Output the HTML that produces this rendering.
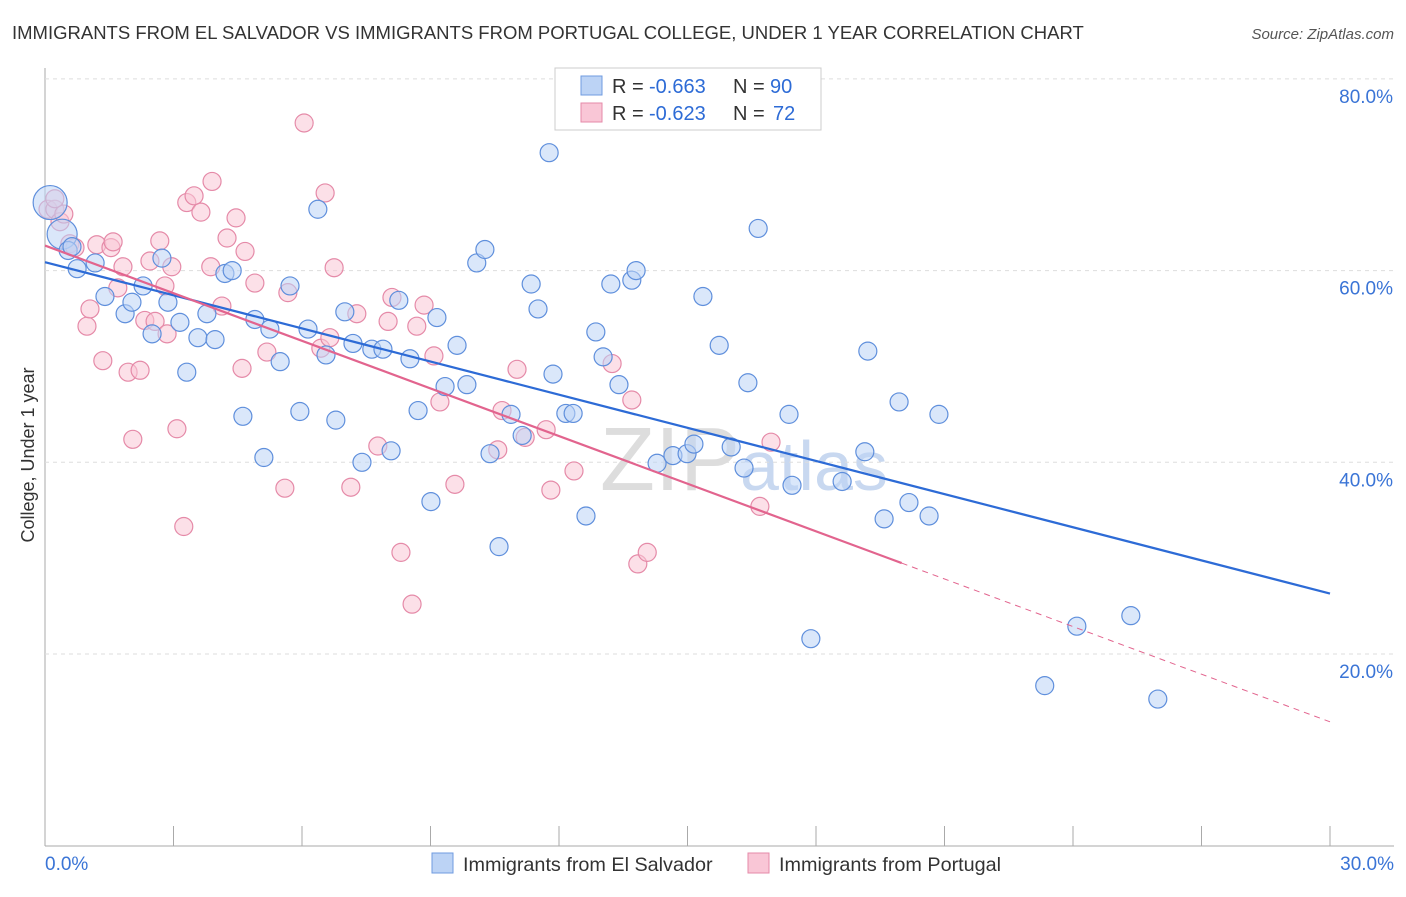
<!DOCTYPE html>
<html><head><meta charset="utf-8"><style>
body{margin:0;background:#fff;font-family:"Liberation Sans",sans-serif;}
svg text{font-family:"Liberation Sans",sans-serif;}
</style></head><body>
<svg id="c" width="1406" height="892">
<text x="12" y="39" font-size="18.5" fill="#333">IMMIGRANTS FROM EL SALVADOR VS IMMIGRANTS FROM PORTUGAL COLLEGE, UNDER 1 YEAR CORRELATION CHART</text>
<text x="1394" y="39" font-size="15" fill="#555" font-style="italic" text-anchor="end">Source: ZipAtlas.com</text>
<text x="600" y="490" font-size="90" fill="#ddd" font-family="Liberation Serif">ZIP<tspan fill="#c8d8f0" font-family="Liberation Sans" font-size="70">atlas</tspan></text>
<text transform="translate(34,455) rotate(-90)" font-size="18" fill="#333" text-anchor="middle">College, Under 1 year</text>
<g id="grid"></g><g id="pts"></g><g id="lines"></g>
<g>
<rect x="555" y="68" width="266" height="62" fill="#fff" stroke="#ccc"/>
<rect x="581" y="76" width="21" height="19" fill="#bcd3f5" stroke="#6f9be0"/>
<rect x="581" y="103" width="21" height="19" fill="#f9c6d6" stroke="#e58aa8"/>
<g font-size="20">
<text x="612" y="93" fill="#333">R =</text><text x="649" y="93" fill="#2d6bd6">-0.663</text>
<text x="733" y="93" fill="#333">N =</text><text x="770" y="93" fill="#2d6bd6">90</text></g>
<g font-size="20">
<text x="612" y="120" fill="#333">R =</text><text x="649" y="120" fill="#2d6bd6">-0.623</text>
<text x="733" y="120" fill="#333">N =</text><text x="773" y="120" fill="#2d6bd6">72</text></g>
</g>
<g>
<rect x="432" y="853" width="21" height="20" fill="#bcd3f5" stroke="#6f9be0"/>
<text x="463" y="871" font-size="19.8" fill="#333">Immigrants from El Salvador</text>
<rect x="748" y="853" width="21" height="20" fill="#f9c6d6" stroke="#e58aa8"/>
<text x="779" y="871" font-size="19.8" fill="#333">Immigrants from Portugal</text>
</g>
</svg>
<script>
const blueX=[0.12,0.40,0.54,0.75,1.17,1.40,1.87,2.03,2.29,2.50,2.73,2.87,3.15,3.31,3.57,3.78,3.97,4.20,4.37,4.62,4.90,5.11,5.25,5.49,5.72,5.95,6.14,6.37,6.56,6.79,7.00,7.19,7.40,7.63,7.89,8.08,8.26,8.52,8.71,9.01,9.15,9.34,9.62,9.85,10.08,10.27,10.39,10.60,10.88,11.14,11.35,11.51,11.77,11.86,12.16,12.33,12.63,12.86,13.03,13.21,13.40,13.70,13.80,14.29,14.66,14.99,15.15,15.36,15.74,16.02,16.32,16.41,16.65,17.37,17.44,17.88,18.61,19.14,19.21,19.59,19.94,20.17,20.64,20.87,23.34,24.09,25.35,25.98,0.63];
const blueY=[67.1,63.8,62.1,60.2,60.8,57.3,55.5,56.7,58.4,53.4,61.3,56.7,54.6,49.4,53.0,55.5,52.8,59.7,60.0,44.8,54.9,40.5,53.9,50.5,58.4,45.3,53.9,66.4,51.2,44.4,55.7,52.4,40.0,51.8,51.8,41.2,56.9,50.8,45.4,35.9,55.1,47.9,52.2,48.1,60.8,62.2,40.9,31.2,45.0,42.8,58.6,56.0,72.3,49.2,45.1,45.1,34.4,53.6,51.0,58.6,48.1,59.0,60.0,39.9,40.7,40.9,41.9,57.3,52.2,41.6,39.4,48.3,64.4,45.0,37.6,21.6,38.0,41.1,51.6,34.1,46.3,35.8,34.4,45.0,16.7,22.9,24.0,15.3,62.5];
const pinkX=[0.07,0.23,0.35,0.44,0.58,0.70,0.98,1.05,1.21,1.35,1.54,1.59,1.70,1.82,1.94,2.05,2.22,2.33,2.45,2.57,2.68,2.80,2.96,3.08,3.24,3.31,3.48,3.64,3.90,3.87,4.13,4.25,4.46,4.60,4.67,4.90,5.18,5.60,5.67,6.05,6.44,6.54,6.75,7.14,7.28,7.77,8.10,8.01,8.31,8.57,8.68,8.85,9.08,9.22,9.57,10.57,10.67,11.02,11.21,11.70,11.81,12.35,13.24,13.70,13.84,14.06,16.69,16.95,2.85,6.65,0.23];
const pinkY=[66.4,66.4,65.1,65.9,62.8,62.4,54.2,56.0,62.7,50.6,62.4,63.0,58.2,60.4,49.4,42.4,49.6,54.8,61.0,54.7,63.1,58.4,60.4,43.5,33.3,67.1,67.8,66.1,69.3,60.4,56.3,63.4,65.5,49.8,62.0,58.7,51.5,37.3,57.7,75.4,51.9,68.1,60.3,37.4,55.5,41.7,57.2,54.7,30.6,25.2,54.2,56.4,51.1,46.3,37.7,41.3,45.4,49.7,42.6,43.4,37.1,39.1,50.3,46.5,29.4,30.6,35.4,42.1,53.4,53.0,67.5];
const tickX=[0,3,6,9,12,15,18,21,24,27,30];
const tickYLabels=[20,40,60,80];
const X=v=>45+v/30*1285, Y=v=>845.7-v/20*191.7;
const NS="http://www.w3.org/2000/svg";
function mk(t,a,p){const e=document.createElementNS(NS,t);for(const k in a)e.setAttribute(k,a[k]);document.getElementById(p).appendChild(e);return e;}
let ax=mk('line',{x1:45,y1:68,x2:45,y2:846,stroke:'#aaa'},'grid');


let bx=mk('line',{x1:45,y1:846,x2:1394,y2:846,stroke:'#aaa'},'grid');


tickYLabels.forEach(v=>{
 let g=mk('line',{x1:45,y1:Y(v),x2:1394,y2:Y(v),stroke:'#ddd','stroke-dasharray':'4,4'},'grid');
 
 
 let t=mk('text',{x:1393,y:Y(v)+24,'font-size':19,fill:'#3a74d6','text-anchor':'end'},'grid');t.textContent=v.toFixed(1)+'%';
 
 
});
tickX.forEach(v=>{
 let l=mk('line',{x1:X(v),y1:826,x2:X(v),y2:846,stroke:'#aaa'},'grid');
 
 
});
[[0,'0.0%',45,'start'],[30,'30.0%',1394,'end']].forEach(d=>{let t=mk('text',{x:d[2],y:870,'font-size':19,fill:'#3a74d6','text-anchor':d[3]},'grid');t.textContent=d[1];
 
 });
function draw(xs,ys,fill,stroke,name){xs.forEach((x,i)=>{let r=(i==0&&name=='blue')?17:(i==1&&name=='blue')?15:9;
 let c=mk('circle',{cx:X(x),cy:Y(ys[i]),r:r,fill:fill,'fill-opacity':0.55,stroke:stroke,'stroke-width':1.2},'pts');
 
 });}
draw(pinkX,pinkY,'#f9c6d6','#e58aa8','pink');
draw(blueX,blueY,'#bcd3f5','#5f8fdc','blue');
function fit(xs,ys){const n=xs.length;let mx=0,my=0;xs.forEach((x,i)=>{mx+=x;my+=ys[i]});mx/=n;my/=n;let sxy=0,sxx=0;xs.forEach((x,i)=>{sxy+=(x-mx)*(ys[i]-my);sxx+=(x-mx)**2});const b=sxy/sxx;return [my-b*mx,b];}
const [ba,bb]=fit(blueX,blueY),[pa,pb]=fit(pinkX,pinkY);
let l1=mk('line',{x1:X(0),y1:Y(ba),x2:X(30),y2:Y(ba+bb*30),stroke:'#2d6bd6','stroke-width':2.2},'lines');


let l2=mk('line',{x1:X(0),y1:Y(pa),x2:X(20),y2:Y(pa+pb*20),stroke:'#e2648e','stroke-width':2.2},'lines');


let l3=mk('line',{x1:X(20),y1:Y(pa+pb*20),x2:X(30),y2:Y(pa+pb*30),stroke:'#e2648e','stroke-width':1,'stroke-dasharray':'6,5'},'lines');


</script>
</body></html>
